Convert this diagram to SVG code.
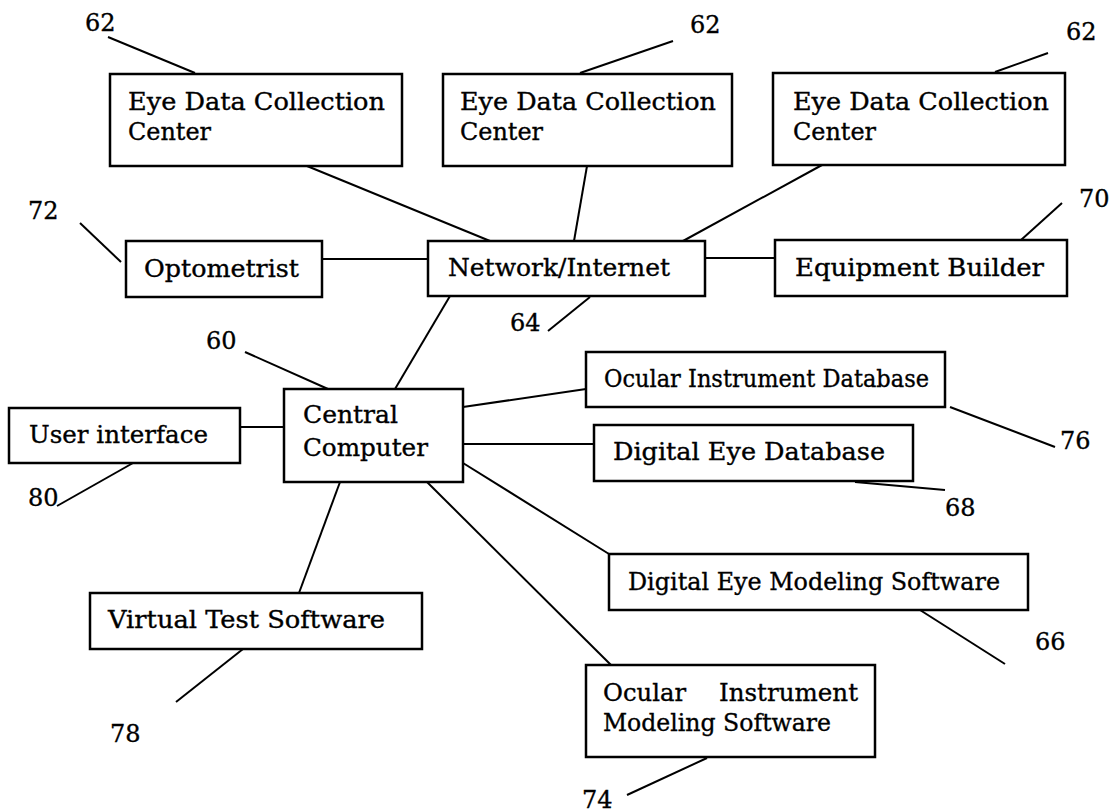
<svg xmlns="http://www.w3.org/2000/svg" width="1113" height="812" viewBox="0 0 1113 812">
<style>
.box{fill:#fff;stroke:#000;stroke-width:2.5}
.ln{stroke:#000;stroke-width:2;fill:none}
text{font-family:"DejaVu Serif","Liberation Serif",serif;font-size:24px;fill:#000;stroke:#000;stroke-width:0.35}
.num{font-size:24px}
</style>
<rect width="1113" height="812" fill="#fff"/>
<g id="connectors">
<line class="ln" x1="307" y1="166" x2="490" y2="241"/>
<line class="ln" x1="587" y1="166" x2="574" y2="241"/>
<line class="ln" x1="822" y1="165" x2="683" y2="241"/>
<line class="ln" x1="322" y1="259" x2="428" y2="259"/>
<line class="ln" x1="705" y1="258" x2="775" y2="258"/>
<line class="ln" x1="450" y1="296" x2="395" y2="389"/>
<line class="ln" x1="240" y1="427" x2="284" y2="427"/>
<line class="ln" x1="463" y1="407" x2="586" y2="389"/>
<line class="ln" x1="463" y1="444" x2="594" y2="444"/>
<line class="ln" x1="463" y1="463" x2="609" y2="554"/>
<line class="ln" x1="427" y1="482" x2="611" y2="665"/>
<line class="ln" x1="340" y1="482" x2="299" y2="593"/>
</g>
<g id="leaders">
<line class="ln" x1="108" y1="37" x2="195" y2="73"/>
<line class="ln" x1="580" y1="73" x2="673" y2="41"/>
<line class="ln" x1="995" y1="72" x2="1048" y2="53"/>
<line class="ln" x1="80" y1="223" x2="121" y2="262"/>
<line class="ln" x1="1021" y1="240" x2="1062" y2="203"/>
<line class="ln" x1="548" y1="331" x2="590" y2="297"/>
<line class="ln" x1="245" y1="352" x2="328" y2="389"/>
<line class="ln" x1="950" y1="407" x2="1055" y2="447"/>
<line class="ln" x1="855" y1="482" x2="945" y2="490"/>
<line class="ln" x1="57" y1="506" x2="133" y2="463"/>
<line class="ln" x1="920" y1="610" x2="1005" y2="664"/>
<line class="ln" x1="176" y1="702" x2="243" y2="649"/>
<line class="ln" x1="627" y1="795" x2="707" y2="758"/>
</g>
<g id="refs">
<text class="num" x="85" y="31">62</text>
<text class="num" x="690" y="33">62</text>
<text class="num" x="1066" y="40">62</text>
<text class="num" x="28" y="219">72</text>
<text class="num" x="1079" y="207">70</text>
<text class="num" x="510" y="331">64</text>
<text class="num" x="206" y="349">60</text>
<text class="num" x="1060" y="449">76</text>
<text class="num" x="28" y="506">80</text>
<text class="num" x="945" y="516">68</text>
<text class="num" x="1035" y="650">66</text>
<text class="num" x="110" y="742">78</text>
<text class="num" x="582" y="808">74</text>
</g>
<g id="edcc1">
<rect class="box" x="110" y="74" width="292" height="92"/>
<text x="128" y="110" textLength="257" lengthAdjust="spacingAndGlyphs">Eye Data Collection</text>
<text x="128" y="140" textLength="83" lengthAdjust="spacingAndGlyphs">Center</text>
</g>
<g id="edcc2">
<rect class="box" x="443" y="74" width="289" height="92"/>
<text x="460" y="110" textLength="256" lengthAdjust="spacingAndGlyphs">Eye Data Collection</text>
<text x="460" y="140" textLength="83" lengthAdjust="spacingAndGlyphs">Center</text>
</g>
<g id="edcc3">
<rect class="box" x="773" y="73" width="292" height="92"/>
<text x="793" y="110" textLength="256" lengthAdjust="spacingAndGlyphs">Eye Data Collection</text>
<text x="793" y="140" textLength="83" lengthAdjust="spacingAndGlyphs">Center</text>
</g>
<g id="optometrist">
<rect class="box" x="126" y="241" width="196" height="56"/>
<text x="144" y="277" textLength="155" lengthAdjust="spacingAndGlyphs">Optometrist</text>
</g>
<g id="network">
<rect class="box" x="428" y="241" width="277" height="55"/>
<text x="448" y="276" textLength="222" lengthAdjust="spacingAndGlyphs">Network/Internet</text>
</g>
<g id="equipment">
<rect class="box" x="775" y="240" width="292" height="56"/>
<text x="795" y="276" textLength="249" lengthAdjust="spacingAndGlyphs">Equipment Builder</text>
</g>
<g id="central">
<rect class="box" x="284" y="389" width="179" height="93"/>
<text x="303" y="423" textLength="95" lengthAdjust="spacingAndGlyphs">Central</text>
<text x="303" y="456" textLength="125" lengthAdjust="spacingAndGlyphs">Computer</text>
</g>
<g id="userinterface">
<rect class="box" x="9" y="408" width="231" height="55"/>
<text x="29" y="443" textLength="179" lengthAdjust="spacingAndGlyphs">User interface</text>
</g>
<g id="oid">
<rect class="box" x="586" y="352" width="359" height="55"/>
<text x="604" y="387" textLength="325" lengthAdjust="spacingAndGlyphs">Ocular Instrument Database</text>
</g>
<g id="ded">
<rect class="box" x="594" y="425" width="319" height="56"/>
<text x="613" y="460" textLength="272" lengthAdjust="spacingAndGlyphs">Digital Eye Database</text>
</g>
<g id="dems">
<rect class="box" x="609" y="554" width="419" height="56"/>
<text x="628" y="590" textLength="372" lengthAdjust="spacingAndGlyphs">Digital Eye Modeling Software</text>
</g>
<g id="vts">
<rect class="box" x="90" y="593" width="332" height="56"/>
<text x="108" y="628" textLength="277" lengthAdjust="spacingAndGlyphs">Virtual Test Software</text>
</g>
<g id="oims">
<rect class="box" x="586" y="665" width="289" height="92"/>
<text x="603" y="701" textLength="83" lengthAdjust="spacingAndGlyphs">Ocular</text>
<text x="719" y="701" textLength="139" lengthAdjust="spacingAndGlyphs">Instrument</text>
<text x="603" y="731" textLength="228" lengthAdjust="spacingAndGlyphs">Modeling Software</text>
</g>
</svg>
